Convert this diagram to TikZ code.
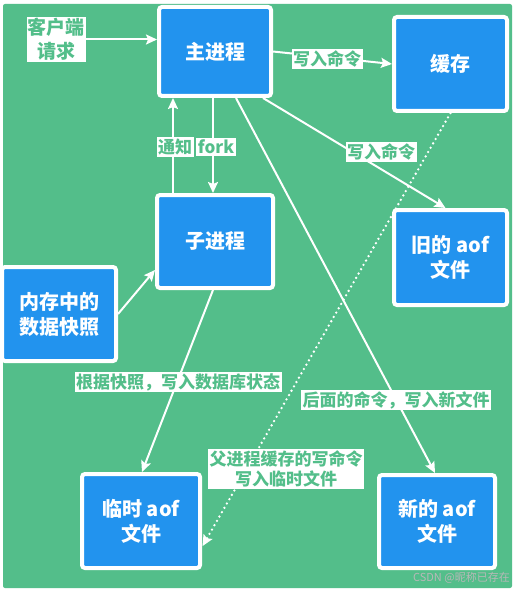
\documentclass[tikz,border=0pt]{standalone}
\usepackage{fontspec}
\setmainfont{Noto Sans CJK SC}
\usetikzlibrary{arrows.meta}
\definecolor{bggreen}{HTML}{53BE8A}
\definecolor{boxblue}{HTML}{2293EE}
\definecolor{wmgray}{HTML}{B8B8B8}
\tikzset{
  box/.style={draw=white, line width=4pt, fill=boxblue, rounded corners=3pt,
    text=white, font=\fontsize{20}{25}\selectfont\bfseries, align=center, inner sep=0pt},
  lab/.style={fill=white, text=bggreen, font=\fontsize{17}{20}\selectfont\bfseries,
    align=center, inner sep=1.5pt},
  arr/.style={draw=white, line width=2pt, -{Stealth[length=11pt,width=10pt,inset=2pt]}},
  dotarr/.style={draw=white, line width=2.6pt, dash pattern=on 0pt off 5pt, line cap=round,
    -{Stealth[length=11pt,width=10pt,inset=2pt,line cap=butt,sep=1pt]}},
}
\begin{document}
\begin{tikzpicture}[x=1pt,y=-1pt]
\useasboundingbox (0,0) rectangle (515,591);
\fill[white] (0,0) rectangle (515,591);
\fill[bggreen, rounded corners=2pt] (3,4) rectangle (512,588);

\node[box, minimum width=112pt, minimum height=89pt] (main) at (215,51.5) {主进程};
\node[box, minimum width=113pt, minimum height=94pt] (cache) at (450.5,64) {缓存};
\node[box, minimum width=113pt, minimum height=95pt] (old) at (450.5,257.5) {旧的 aof\\文件};
\node[box, minimum width=116pt, minimum height=93pt] (child) at (215,241.5) {子进程};
\node[box, minimum width=114pt, minimum height=94pt] (snap) at (59,314) {内存中的\\数据快照};
\node[box, minimum width=118pt, minimum height=94pt] (tmp) at (141,521) {临时 aof\\文件};
\node[box, minimum width=116pt, minimum height=93pt] (new) at (437,521.5) {新的 aof\\文件};

% connectors
\draw[arr] ([xshift=-42pt]child.north) -- ([xshift=-42pt]main.south);
\draw[arr] ([xshift=-2pt]main.south) -- ([xshift=-2pt]child.north);
\draw[arr] (main.east) -- (cache.west);
\draw[arr] ([xshift=-10pt]main.south east) -- ([xshift=-5pt]old.north);
\draw[arr] ([xshift=21pt]main.south) -- ([xshift=-2pt]new.north);
\draw[arr] ([xshift=-2pt]child.south) -- ([xshift=1pt]tmp.north);
\draw[arr] (snap.east) -- ([yshift=20pt]child.south west);
\draw[dotarr] (cache.south) -- ([yshift=-26pt]tmp.east);

% labels
\node[lab, font=\fontsize{19}{24}\selectfont\bfseries, inner sep=1pt] (client) at (56,39.5) {客户端\\请求};
\draw[arr] (client.east) -- (client.east -| main.west);
\node[lab] (ltz) at (175,147) {通知};
\node[lab] (lfork) at (216,147) {fork};
\node[lab] (lw1) at (327,59) {写入命令};
\node[lab] (lw2) at (381,152) {写入命令};
\node[lab] (lsnap) at (178,382) {根据快照，写入数据库状态};
\node[lab] (lnew) at (396,400) {后面的命令，写入新文件};
\node[lab] (lpar) at (286,469) {父进程缓存的写命令\\写入临时文件};

\node[anchor=east, text=wmgray, font=\fontsize{11}{13}\selectfont, inner sep=0pt] (wm) at (510,578) {CSDN @昵称已存在};
\end{tikzpicture}
\end{document}
